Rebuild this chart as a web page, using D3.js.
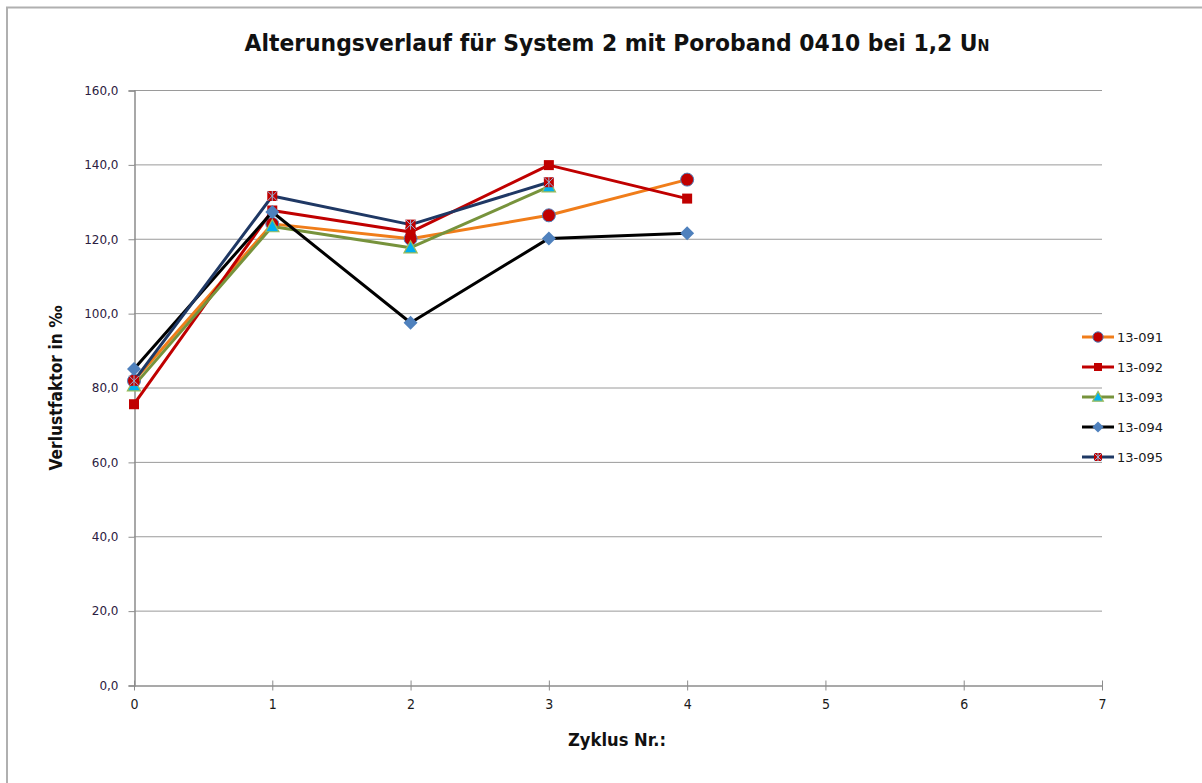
<!DOCTYPE html>
<html>
<head>
<meta charset="utf-8">
<title>Alterungsverlauf</title>
<script src="https://d3js.org/d3.v7.min.js"></script>
<style>
html, body { margin: 0; padding: 0; background: #fff; }
</style>
</head>
<body>
<div id="chart"></div>
<script>
// data
var cycles = [0, 1, 2, 3, 4];
var seriesNames = ["13-091", "13-092", "13-093", "13-094", "13-095"];
var v091 = [81.8, 124.0, 120.0, 126.3, 135.9];
var v092 = [75.5, 127.6, 121.8, 139.8, 130.8];
var v093 = [80.5, 123.3, 117.6, 134.0];
var v094 = [85.0, 127.2, 97.4, 120.1, 121.5];
var v095 = [81.8, 131.5, 123.8, 135.2];
var yTicks = [0, 20, 40, 60, 80, 100, 120, 140, 160];
var xTicks = [0, 1, 2, 3, 4, 5, 6, 7];

var styles = {
  "13-091": {line: "#f07d1a", marker: "circle", fill: "#c00000", stroke: "#4f81bd", size: 6.5},
  "13-092": {line: "#c00000", marker: "square", fill: "#c00000", stroke: "#c00000", size: 5},
  "13-093": {line: "#77933c", marker: "triangle", fill: "#00b0f0", stroke: "#9bbb59", size: 7},
  "13-094": {line: "#000000", marker: "diamond", fill: "#4f81bd", stroke: "#4f81bd", size: 7},
  "13-095": {line: "#1f3864", marker: "star", fill: "#c00000", stroke: "#95b3d7", size: 5}
};
var allValues = [v091, v092, v093, v094, v095];

var W = 1202, H = 783;
var svg = d3.select("#chart").append("svg").attr("width", W).attr("height", H);

// outer frame
svg.append("rect").attr("x", 7).attr("y", 7.5).attr("width", W + 10).attr("height", H + 10)
  .attr("fill", "none").attr("stroke", "#b0b0b0").attr("stroke-width", 2);

var x = d3.scaleLinear().domain([0, 7]).range([134, 1102]);
var y = d3.scaleLinear().domain([0, 160]).range([685, 90]);
var fmt = function (d) { return d3.format(".1f")(d).replace(".", ","); };

// gridlines
svg.append("g").selectAll("line").data(yTicks.filter(function (d) { return d > 0; })).join("line")
  .attr("x1", x(0)).attr("x2", x(7))
  .attr("y1", function (d) { return y(d) + 0.5; }).attr("y2", function (d) { return y(d) + 0.5; })
  .attr("stroke", "#9a9a9a").attr("stroke-width", 1);

// y axis
var yAxis = svg.append("g").attr("transform", "translate(" + (x(0) + 0.5) + ",0.5)")
  .call(d3.axisLeft(y).tickValues(yTicks).tickFormat(fmt).tickSize(6).tickPadding(10));
yAxis.select(".domain").attr("stroke", "#8c8c8c").attr("stroke-width", 1.5);
yAxis.selectAll(".tick line").attr("stroke", "#8c8c8c");
yAxis.selectAll("text").attr("font-family", "DejaVu Sans").attr("font-size", 12).attr("fill", "#2b2040");

// x axis
var xAxis = svg.append("g").attr("transform", "translate(0," + (y(0) + 0.5) + ")")
  .call(d3.axisBottom(x).tickValues(xTicks).tickFormat(d3.format("d")).tickSizeInner(5).tickSizeOuter(0).tickPadding(9));
xAxis.select(".domain").attr("stroke", "#8c8c8c").attr("stroke-width", 1.5);
xAxis.selectAll(".tick line").attr("stroke", "#8c8c8c").attr("y1", -5);
xAxis.selectAll("text").attr("font-family", "DejaVu Sans Condensed, DejaVu Sans").attr("font-size", 14).attr("fill", "#1a1a1a");

// marker drawing
function drawMarker(g, st) {
  var s = st.size;
  if (st.marker === "circle") {
    g.append("circle").attr("r", s).attr("fill", st.fill).attr("stroke", st.stroke).attr("stroke-width", 1);
  } else if (st.marker === "square") {
    g.append("rect").attr("x", -s).attr("y", -s).attr("width", 2 * s).attr("height", 2 * s).attr("fill", st.fill);
  } else if (st.marker === "triangle") {
    g.append("path").attr("d", "M0," + (-s) + "L" + (s * 0.95) + "," + (s * 0.75) + "L" + (-s * 0.95) + "," + (s * 0.75) + "Z")
      .attr("fill", st.fill).attr("stroke", st.stroke).attr("stroke-width", 1.2);
  } else if (st.marker === "diamond") {
    g.append("path").attr("d", "M0," + (-s) + "L" + s + ",0L0," + s + "L" + (-s) + ",0Z").attr("fill", st.fill);
  } else if (st.marker === "star") {
    g.append("rect").attr("x", -s).attr("y", -s).attr("width", 2 * s).attr("height", 2 * s).attr("fill", st.fill);
    g.append("path").attr("d", "M" + (-s) + "," + (-s) + "L" + s + "," + s + "M" + s + "," + (-s) + "L" + (-s) + "," + s + "M0," + (-s) + "L0," + s)
      .attr("stroke", st.stroke).attr("stroke-width", 1).attr("fill", "none");
  }
}

var line = d3.line().x(function (d, i) { return x(cycles[i]); }).y(function (d) { return y(d); });

seriesNames.forEach(function (name, k) {
  var st = styles[name];
  var vals = allValues[k];
  var g = svg.append("g");
  g.append("path").datum(vals).attr("d", line).attr("fill", "none")
    .attr("stroke", st.line).attr("stroke-width", 3).attr("stroke-linejoin", "round");
  vals.forEach(function (v, i) {
    drawMarker(g.append("g").attr("transform", "translate(" + x(cycles[i]) + "," + y(v) + ")"), st);
  });
});

// legend
var legend = svg.append("g");
seriesNames.forEach(function (name, k) {
  var st = styles[name];
  var ly = 337 + k * 30;
  var lg = legend.append("g").attr("transform", "translate(1098," + ly + ")");
  lg.append("line").attr("x1", -16).attr("x2", 16).attr("stroke", st.line).attr("stroke-width", 3);
  var ms = Object.assign({}, st, {size: st.size * 0.8});
  drawMarker(lg, ms);
  lg.append("text").attr("x", 19).attr("y", 0).attr("dy", "0.35em")
    .attr("font-family", "DejaVu Sans").attr("font-size", 13).attr("fill", "#1a1a1a").text(name);
});

// title
var title = svg.append("text").attr("x", 617).attr("y", 51).attr("text-anchor", "middle")
  .attr("font-family", "DejaVu Sans Condensed, Open Sans").attr("font-weight", "bold").attr("font-size", 23).attr("fill", "#111")
  .attr("textLength", 745).attr("lengthAdjust", "spacingAndGlyphs");
title.append("tspan").text("Alterungsverlauf für System 2 mit Poroband 0410 bei 1,2 U");
title.append("tspan").attr("font-size", 15).text("N");

// axis titles
svg.append("text").attr("x", 617).attr("y", 746).attr("text-anchor", "middle")
  .attr("font-family", "DejaVu Sans Condensed, Open Sans").attr("font-weight", "bold").attr("font-size", 18).attr("fill", "#111")
  .attr("textLength", 98).attr("lengthAdjust", "spacingAndGlyphs").text("Zyklus Nr.:");
svg.append("text").attr("transform", "translate(62,388) rotate(-90)").attr("text-anchor", "middle")
  .attr("font-family", "DejaVu Sans Condensed, Open Sans").attr("font-weight", "bold").attr("font-size", 18).attr("fill", "#111")
  .attr("textLength", 165).attr("lengthAdjust", "spacingAndGlyphs").text("Verlustfaktor in ‰");
</script>
</body>
</html>
